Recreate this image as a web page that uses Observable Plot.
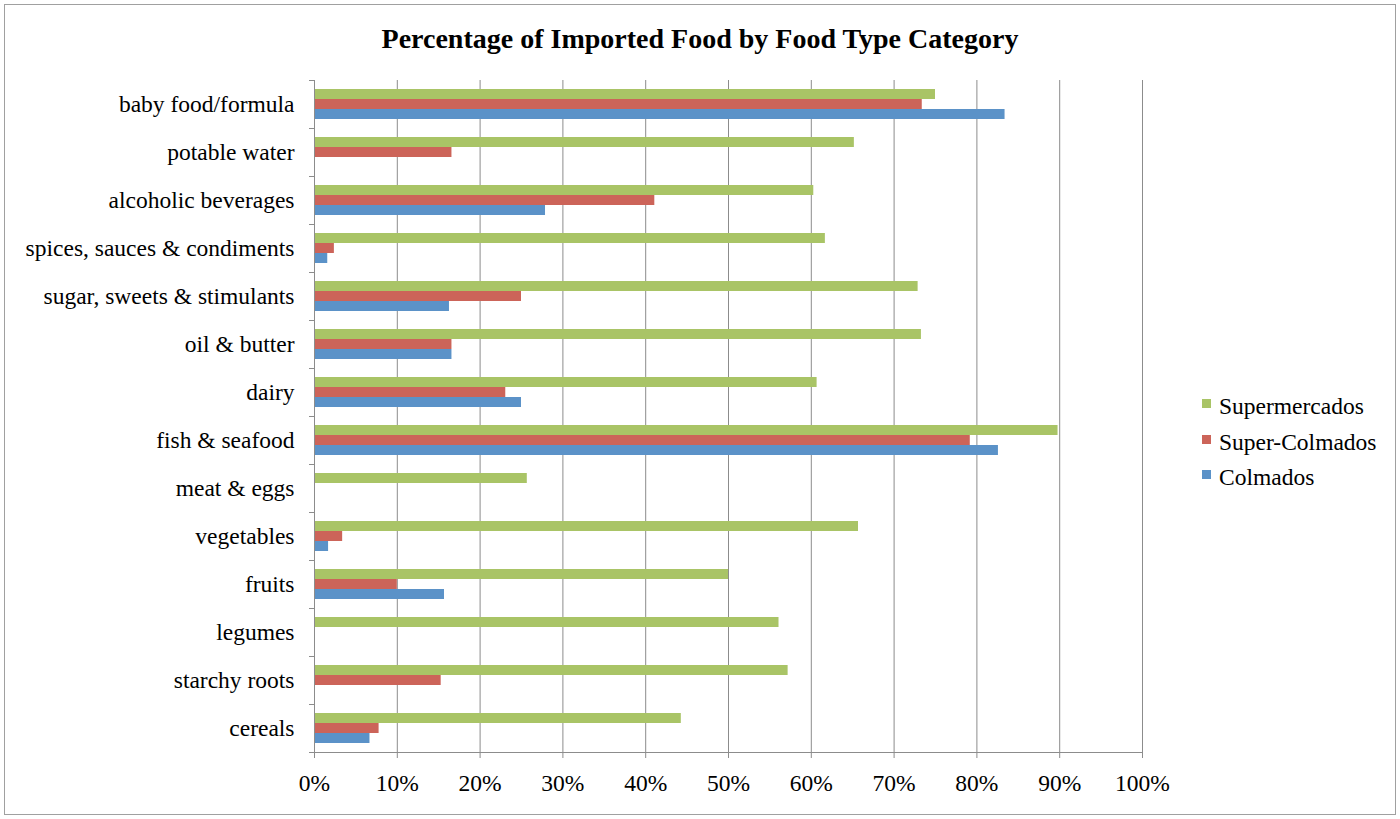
<!DOCTYPE html>
<html><head><meta charset="utf-8">
<script src="https://cdn.jsdelivr.net/npm/d3@7"></script>
<script src="https://cdn.jsdelivr.net/npm/@observablehq/plot@0.6"></script>
<style>
body{margin:0;background:#fff;}
#wrap{position:relative;width:1400px;height:819px;font-family:"Liberation Serif","Times New Roman",serif;color:#000;}
#border{position:absolute;left:4px;top:4px;width:1392px;height:811px;border:1px solid #a0a0a0;box-sizing:border-box;}
#chart{position:absolute;left:0;top:0;}
#title{position:absolute;top:23px;left:0;width:1400px;text-align:center;font-weight:bold;font-size:28px;line-height:32px;}
#legend{position:absolute;left:1202px;top:389px;font-size:23.5px;}
#legend .item{display:flex;align-items:center;height:35.5px;}
#legend .sw{width:9px;height:9px;margin-right:8px;margin-top:-6px;}
</style></head>
<body><div id="wrap"><div id="border"></div><div id="chart"></div><div id="title">Percentage of Imported Food by Food Type Category</div><div id="legend"></div></div>
<script>
const categories = ["baby food/formula","potable water","alcoholic beverages","spices, sauces & condiments","sugar, sweets & stimulants","oil & butter","dairy","fish & seafood","meat & eggs","vegetables","fruits","legumes","starchy roots","cereals"];
const series = ["Supermercados","Super-Colmados","Colmados"];
const supermercados = [75.0,65.2,60.3,61.7,72.9,73.3,60.7,89.8,25.7,65.7,50.0,56.1,57.2,44.3];
const superColmados = [73.4,16.6,41.1,2.4,25.0,16.6,23.1,79.2,null,3.4,10.0,null,15.3,7.8];
const colmados = [83.4,null,27.9,1.6,16.3,16.6,25.0,82.6,null,1.7,15.7,null,null,6.7];
const xTicks = [0,10,20,30,40,50,60,70,80,90,100];
const colors = ["#A9C466","#CC6459","#5B92C8"];

const seriesValues = [supermercados, superColmados, colmados];
const data = [];
categories.forEach((c, i) => {
  seriesValues.forEach((arr, j) => {
    if (arr[i] != null) data.push({category: c, series: series[j], value: arr[i]});
  });
});

const gridColor = "#8c8c8c";
const serif = "Liberation Serif, Times New Roman, serif";
const plot = Plot.plot({
  width: 1400, height: 819,
  marginLeft: 314, marginRight: 258, marginTop: 80, marginBottom: 67,
  style: {fontFamily: serif, fontSize: "23.5px", color: "#000", background: "transparent"},
  x: {domain: [0, 100]},
  y: {domain: series, paddingInner: 0, paddingOuter: 0.75, axis: null},
  fy: {domain: categories, padding: 0},
  color: {domain: series, range: colors},
  marks: [
    Plot.gridX(xTicks.slice(1), {stroke: gridColor, strokeOpacity: 1}),
    Plot.barX(data, {x: "value", y: "series", fy: "category", fill: "series"}),
    Plot.ruleX([0], {stroke: gridColor}),
    Plot.axisFy({anchor: "left", tickSize: 0, tickPadding: 20, label: null, fontSize: 23.5, fontFamily: serif}),
    Plot.axisX(xTicks, {anchor: "bottom", tickSize: 6, tickPadding: 16, tickFormat: d => d + "%", label: null, stroke: gridColor, fontSize: 23.5, fontFamily: serif})
  ]
});
document.getElementById("chart").appendChild(plot);

// axis line and between-category tick marks
const fy = plot.scale("fy"), xs = plot.scale("x");
const svg = d3.select(plot);
const g = svg.append("g").attr("stroke", gridColor).attr("stroke-width", 1);
const top0 = fy.apply(categories[0]);
const step = fy.step;
const bottom = top0 + step * categories.length;
g.append("line").attr("x1", xs.apply(0)).attr("x2", xs.apply(100)).attr("y1", bottom + 0.5).attr("y2", bottom + 0.5);
for (let k = 0; k <= categories.length; k++) {
  const yy = top0 + k * step;
  g.append("line").attr("x1", xs.apply(0) - 5).attr("x2", xs.apply(0)).attr("y1", yy + 0.5).attr("y2", yy + 0.5);
}

// legend
const leg = d3.select("#legend");
series.forEach((s, j) => {
  const it = leg.append("div").attr("class", "item");
  it.append("div").attr("class", "sw").style("background", colors[j]);
  it.append("span").text(s);
});
</script>
</body></html>
